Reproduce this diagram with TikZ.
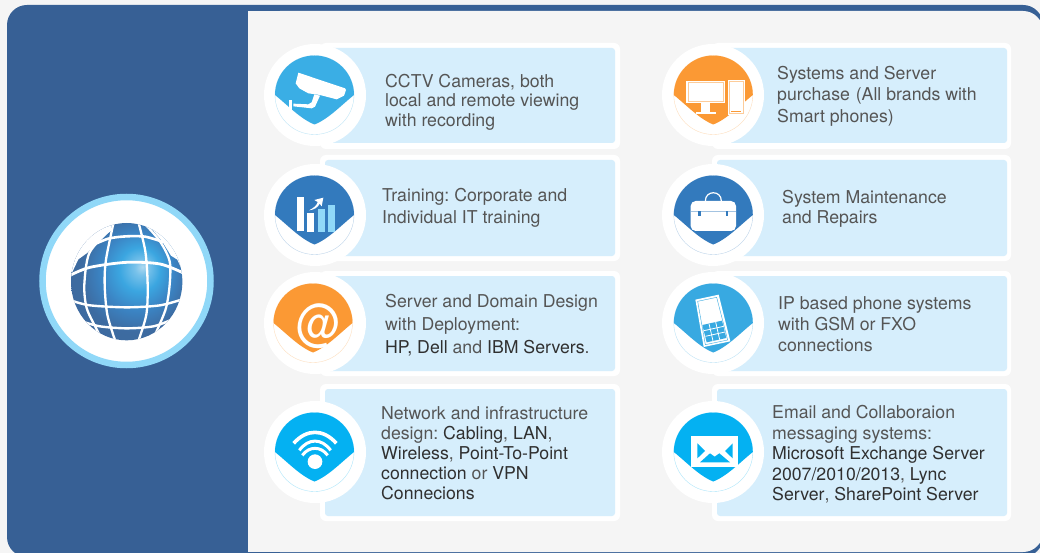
\documentclass[tikz,border=0pt]{standalone}
\usepackage{fontspec}
\setmainfont{TeX Gyre Heros}
\frenchspacing
\definecolor{pagebg}{HTML}{F5F5F5}
\definecolor{panelblue}{HTML}{376095}
\definecolor{ringblue}{HTML}{90D8F8}
\definecolor{cardblue}{HTML}{D6EEFC}
\definecolor{skyblue}{HTML}{3AAEE5}
\definecolor{midblue}{HTML}{337ABD}
\definecolor{orangeb}{HTML}{FB9934}
\definecolor{cyanb}{HTML}{04B1F2}
\definecolor{phoneb}{HTML}{38A9E1}
\definecolor{txtlight}{HTML}{555555}
\definecolor{txtdark}{HTML}{303030}
\newcommand{\dk}[1]{\textcolor{txtdark}{#1}}
\pgfdeclareradialshading{globeball}{\pgfpoint{7bp}{6bp}}{%
  rgb(0bp)=(0.68,0.85,0.94);
  rgb(3bp)=(0.47,0.76,0.92);
  rgb(9bp)=(0.23,0.65,0.88);
  rgb(16bp)=(0.23,0.52,0.77);
  rgb(24bp)=(0.24,0.42,0.63);
  rgb(50bp)=(0.24,0.40,0.61)}
\tikzset{
  x=1pt,y=-1pt,
  cardouter/.style={fill=white,rounded corners=6pt},
  cardinner/.style={fill=cardblue,rounded corners=3pt},
  badge/.style={circle,fill=white,minimum size=102pt,inner sep=0pt},
  cardtext/.style={anchor=west,inner sep=0pt,align=left,text=txtlight,font=\fontsize{17.7}{#1}\selectfont},
  gridline/.style={draw=white,line width=2.3pt},
}
\newcommand{\leafbadge}[3]{%
  \begin{scope}[shift={(#1,#2)}]
    \draw[#3!35!white,line width=0.35pt] (0,0) circle[radius=39.5];
    \fill[#3] (-39.5,0) arc[start angle=180,end angle=360,radius=39.5]
      .. controls (27,10) and (14,24) .. (0,29.5)
      .. controls (-14,24) and (-27,10) .. (-39.5,0) -- cycle;
  \end{scope}}
\begin{document}
\begin{tikzpicture}
\path[use as bounding box,clip] (0,0) rectangle (1040,553);
\fill[pagebg] (0,0) rectangle (1040,553);
% frame
\fill[panelblue,rounded corners=20pt] (7,5) rectangle (1043,557);
\fill[pagebg,rounded corners=20pt] (260,11) rectangle (1043,552);
\fill[pagebg] (248,11) rectangle (300,552);
% cards left
\fill[cardouter] (320,43) rectangle (620,149);
\fill[cardinner] (325,48) rectangle (615,143);
\fill[cardouter] (320,155) rectangle (620,261);
\fill[cardinner] (325,160) rectangle (615,256);
\fill[cardouter] (320,271) rectangle (620,376);
\fill[cardinner] (325,276) rectangle (615,371);
\fill[cardouter] (320,384) rectangle (620,521);
\fill[cardinner] (325,389) rectangle (615,516);
% cards right
\fill[cardouter] (712,43) rectangle (1011,149);
\fill[cardinner] (717,48) rectangle (1007,143);
\fill[cardouter] (712,155) rectangle (1011,261);
\fill[cardinner] (717,160) rectangle (1007,256);
\fill[cardouter] (712,271) rectangle (1011,376);
\fill[cardinner] (717,276) rectangle (1007,371);
\fill[cardouter] (712,384) rectangle (1011,521);
\fill[cardinner] (717,389) rectangle (1007,516);
% badges
\node[badge] (b1) at (315,95) {};
\node[badge] (b2) at (315,215) {};
\node[badge] (b3) at (315,323) {};
\node[badge] (b4) at (315,452) {};
\node[badge] (b5) at (713,95) {};
\node[badge] (b6) at (713,215) {};
\node[badge] (b7) at (713,323) {};
\node[badge] (b8) at (713,452) {};
\leafbadge{314.5}{95}{skyblue}
\leafbadge{314.5}{215}{midblue}
\leafbadge{313}{323}{orangeb}
\leafbadge{314.5}{452}{cyanb}
\leafbadge{713.3}{95}{orangeb}
\leafbadge{713.3}{215}{midblue}
\leafbadge{713.3}{323}{phoneb}
\leafbadge{713.3}{452}{cyanb}
% camera
\begin{scope}[shift={(265,45)},scale=1/3]
  \fill[white] (100,83) -- (240,130) -- (243,135) -- (237,152) -- (215,163) -- (165,150) -- (130,145) -- (103,130) -- (92,115) -- cycle;
  \fill[white] (148,148) -- (165,152) -- (150,185) -- (140,190) -- (85,184) -- (85,176) -- (130,178) -- (140,172) -- cycle;
  \fill[white] (72,165) rectangle (80,205);
\end{scope}
% bars
\begin{scope}[shift={(265,165)},scale=1/3]
  \fill[white] (97,96) rectangle (117,198);
  \fill[white] (127,143) rectangle (147,200);
  \fill[ringblue] (159,132) rectangle (179,200);
  \fill[ringblue] (190,120) rectangle (210,200);
  \fill[white] (132,136) .. controls (148,128) and (156,120) .. (158,111) -- (148,105) -- (175,98) -- (170,124) -- (164,116) .. controls (158,128) and (148,134) .. (132,136) -- cycle;
\end{scope}
% at sign
\node[inner sep=0pt,text=white,font=\fontsize{44}{44}\selectfont] (atsign) at (319,326.5) {\scalebox{1}[1.16]{@}};
% wifi
\begin{scope}[shift={(265,402)},scale=1/3]
  \draw[white,line width=3.6pt] (86,124) .. controls (125,80) and (175,80) .. (214,124);
  \draw[white,line width=3pt] (103,145) .. controls (130,108) and (170,108) .. (197,145);
  \draw[white,line width=3pt] (112,160) .. controls (132,132) and (168,132) .. (188,160);
  \fill[white] (150,179) circle[radius=22];
\end{scope}
% monitor
\begin{scope}[shift={(663,45)},scale=1/3]
  \fill[white] (70,108) rectangle (187,175);
  \draw[orangeb!50!white,line width=0.5pt] (75,113) rectangle (182,170);
  \fill[white] (115,175) rectangle (140,203);
  \fill[white] (98,202) rectangle (158,207);
  \fill[white] (196,105) rectangle (246,210);
  \draw[orangeb!50!white,line width=0.4pt] (200,109) rectangle (242,206);
  \draw[orangeb,line width=0.8pt] (205,198) -- (233,198);
\end{scope}
% briefcase
\begin{scope}[shift={(640,0)},scale=1/3]
  \fill[white,rounded corners=5pt] (152,603) rectangle (288,693);
  \draw[white,line width=1.2pt] (196,603) .. controls (196,570) and (244,570) .. (244,603);
  \draw[midblue!45!white,line width=0.4pt] (152,634) -- (288,634);
  \fill[midblue] (175,634) rectangle (182,648);
  \fill[midblue] (258,634) rectangle (265,648);
\end{scope}
% phone
\begin{scope}[shift={(663,273)},scale=1/3]
  \fill[white] (97,80) -- (167,65) -- (202,205) -- (122,222) -- cycle;
  \draw[phoneb,line width=0.4pt] (104,85) -- (161,73) -- (194,201) -- (127,215) -- cycle;
  \fill[phoneb] (118,156) -- (177,143) -- (190,195) -- (131,208) -- cycle;
  \draw[white,line width=0.8pt] (138,152) -- (150,204);
  \draw[white,line width=0.8pt] (158,147) -- (170,200);
  \draw[white,line width=0.8pt] (123,173) -- (182,160);
  \draw[white,line width=0.8pt] (127,190) -- (186,177);
\end{scope}
% envelope
\begin{scope}[shift={(640,270)},scale=1/3]
  \fill[white] (153,498) rectangle (295,592);
  \fill[cyanb] (172,520) -- (195,543) -- (172,565) -- cycle;
  \fill[cyanb] (278,520) -- (255,543) -- (278,565) -- cycle;
  \fill[cyanb] (180,577) -- (210,550) -- (224,560) -- (238,550) -- (270,577) -- cycle;
\end{scope}
% globe
\node[circle,fill=white,draw=ringblue,line width=6.5pt,minimum size=168pt,inner sep=0pt] (globe) at (126.5,281) {};
\begin{scope}[shift={(70,218)},scale=1/3]
  \begin{scope}
    \clip (170,191) ellipse[x radius=167,y radius=176];
    \shade[shading=globeball] (0,8) rectangle (340,372);
    \draw[gridline,line width=2.6pt] plot[smooth] coordinates {(60,85) (115,62) (170,55) (225,56) (280,72)};
    \draw[gridline,line width=2.8pt] plot[smooth] coordinates {(0,172) (60,148) (170,133) (270,138) (340,165)};
    \draw[gridline,line width=2.4pt] plot[smooth] coordinates {(5,248) (60,262) (170,268) (270,262) (340,243)};
    \draw[gridline,line width=2.4pt] plot[smooth] coordinates {(35,310) (90,325) (170,331) (250,325) (305,305)};
    \draw[gridline] plot[smooth] coordinates {(132,8) (108,125) (104,200) (112,290) (137,372)};
    \draw[gridline] plot[smooth] coordinates {(204,8) (226,100) (233,200) (229,290) (204,372)};
    \draw[gridline] plot[smooth] coordinates {(115,40) (58,105) (43,200) (50,270) (78,330) (100,372)};
    \draw[gridline] plot[smooth] coordinates {(225,18) (270,70) (299,130) (299,200) (288,270) (262,335) (245,372)};
    \fill[white] (0,0) -- (129,0) -- (122,40) -- (115,44) -- (78,75) -- (58,98) -- (50,106) -- (25,124) -- (8,160) -- (0,170) -- cycle;
    \fill[white] (210,0) -- (212,12) -- (240,25) -- (258,48) -- (275,68) -- (303,113) -- (322,125) -- (337,158) -- (345,158) -- (345,0) -- cycle;
  \end{scope}
\end{scope}
% texts
\node[cardtext=19.5] (t1) at (385,102) {CCTV Cameras, both\\local and remote viewing\\with recording};
\node[cardtext=22] (t2) at (382,208) {Training: Corporate and\\Individual IT training};
\node[cardtext=23] (t3) at (385,325) {Server and Domain Design\\with Deployment:\\\dk{HP, Dell} and \dk{IBM Servers}.};
\node[cardtext=20] (t4) at (381,453) {Network and infrastructure\\design: \dk{Cabling}, \dk{LAN},\\\dk{Wireless}, \dk{Point-To-Point}\\\dk{connection} or \dk{VPN}\\\dk{Connecions}};
\node[cardtext=21.5] (t5) at (777,96) {Systems and Server\\purchase\hspace{1pt} (All brands with\\Smart phones)};
\node[cardtext=20] (t6) at (782,209) {System Maintenance\\and Repairs};
\node[cardtext=21] (t7) at (778,324.5) {IP based phone systems\\with GSM or FXO\\connections};
\node[cardtext=20.5] (t8) at (772,454.5) {Email and Collaboraion\\messaging systems:\\\dk{Microsoft Exchange Server}\\\dk{2007/2010/2013}, \dk{Lync}\\\dk{Server}, \dk{SharePoint Server}};
\end{tikzpicture}
\end{document}
